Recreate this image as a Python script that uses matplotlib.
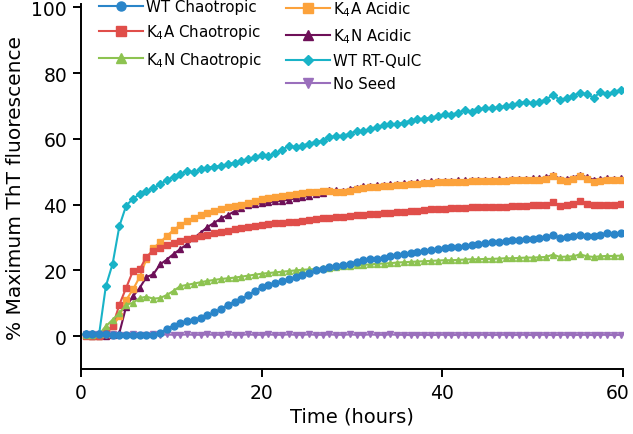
import numpy as np
import matplotlib
matplotlib.use("Agg")
import matplotlib.pyplot as plt
from matplotlib.transforms import ScaledTranslation

plt.rcParams['font.family'] = ['DejaVu Sans']
plt.rcParams['mathtext.fontset'] = 'dejavusans'
plt.rcParams['mathtext.default'] = 'regular'

# time points (hours)
time = [0.5 + 0.75 * k for k in range(80)]

wt_chaotropic = [0.8, 0.7, 0.6, 0.5, 0.4, 0.3, 0.3, 0.3, 0.3, 0.2,
                 0.3, 1.0, 2.2, 3.2, 4.0, 4.5, 5.0, 5.6, 6.3, 7.2,
                 8.3, 9.5, 10.4, 11.3, 12.4, 13.7, 14.9, 15.6, 16.2, 16.8,
                 17.4, 17.9, 18.5, 19.2, 20.0, 20.5, 20.9, 21.3, 21.7, 22.1,
                 22.6, 23.1, 23.4, 23.6, 23.9, 24.3, 24.7, 25.0, 25.3, 25.5,
                 25.8, 26.1, 26.4, 26.7, 27.0, 27.2, 27.5, 27.8, 28.1, 28.3,
                 28.5, 28.7, 28.9, 29.1, 29.3, 29.5, 29.7, 29.9, 30.1, 30.9,
                 29.9, 30.2, 30.5, 30.9, 30.5, 30.6, 30.8, 31.5, 31.1, 31.3]

k4a_chaotropic = [0.0, 0.0, 0.0, 1.5, 3.0, 9.6, 14.7, 19.8, 20.3, 24.2,
                  25.9, 26.9, 27.6, 28.2, 28.9, 29.5, 30.0, 30.5, 30.9, 31.3,
                  31.7, 32.1, 32.5, 32.9, 33.3, 33.6, 33.9, 34.1, 34.3, 34.5,
                  34.6, 34.8, 35.0, 35.3, 35.5, 35.8, 36.0, 36.2, 36.4, 36.6,
                  36.8, 37.0, 37.1, 37.3, 37.4, 37.6, 37.7, 37.9, 38.0, 38.2,
                  38.4, 38.6, 38.7, 38.8, 38.9, 39.0, 39.1, 39.2, 39.2, 39.3,
                  39.3, 39.4, 39.4, 39.5, 39.6, 39.7, 39.8, 39.8, 40.0, 40.7,
                  39.7, 39.8, 40.2, 41.1, 40.3, 39.8, 39.9, 40.0, 40.0, 40.1]

k4n_chaotropic = [0.3, 0.3, 0.5, 3.0, 5.0, 7.0, 9.6, 10.1, 11.6, 12.0,
                  11.4, 11.6, 12.5, 13.8, 15.2, 15.6, 16.0, 16.4, 16.8, 17.1,
                  17.4, 17.6, 17.8, 18.1, 18.4, 18.7, 19.0, 19.2, 19.4, 19.6,
                  19.8, 20.0, 20.2, 20.3, 20.4, 20.6, 20.8, 21.0, 21.2, 21.3,
                  21.5, 21.7, 21.8, 22.0, 22.1, 22.2, 22.4, 22.5, 22.6, 22.7,
                  22.8, 22.9, 23.0, 23.1, 23.1, 23.2, 23.3, 23.4, 23.4, 23.5,
                  23.5, 23.6, 23.7, 23.7, 23.8, 23.9, 23.9, 24.0, 24.1, 24.8,
                  24.1, 24.2, 24.3, 24.9, 24.3, 24.1, 24.3, 24.4, 24.4, 24.5]

k4a_acidic = [0.2, 0.1, 0.1, 0.5, 3.0, 6.0, 11.0, 14.2, 18.0, 23.5,
              26.8, 28.5, 30.5, 32.3, 33.8, 35.0, 36.0, 36.8, 37.4, 38.0,
              38.6, 39.2, 39.6, 40.0, 40.5, 41.0, 41.6, 42.0, 42.3, 42.6,
              43.0, 43.3, 43.6, 43.8, 44.0, 44.2, 44.1, 44.0, 43.8, 44.3,
              44.8, 45.2, 45.3, 45.5, 45.7, 45.8, 46.0, 46.1, 46.3, 46.4,
              46.6, 46.7, 46.8, 46.8, 46.9, 47.0, 47.0, 47.1, 47.1, 47.2,
              47.2, 47.3, 47.2, 47.4, 47.5, 47.5, 47.6, 47.6, 47.9, 48.8,
              47.4, 47.3, 47.8, 48.8, 47.9, 47.0, 47.3, 47.5, 47.4, 47.5]

k4n_acidic = [0.2, 0.1, 0.1, 0.1, 0.2, 1.0, 9.0, 12.1, 14.7, 18.0,
              18.8, 21.8, 23.3, 25.0, 26.5, 28.0, 29.8, 31.5, 33.2, 34.5,
              35.8, 36.8, 38.0, 39.0, 39.8, 40.2, 40.4, 40.7, 41.0, 41.2,
              41.5, 41.9, 42.3, 42.7, 43.2, 43.7, 44.5, 44.4, 44.3, 44.7,
              45.2, 45.6, 45.7, 45.9, 46.1, 46.2, 46.4, 46.5, 46.7, 46.8,
              47.0, 47.1, 47.2, 47.2, 47.3, 47.4, 47.4, 47.5, 47.5, 47.6,
              47.6, 47.7, 47.6, 47.8, 47.9, 47.9, 48.0, 48.0, 48.3, 49.0,
              47.9, 47.8, 48.2, 49.1, 48.3, 47.6, 47.8, 48.0, 47.9, 48.0]

wt_rtquic = [0.8, 0.6, 0.5, 15.2, 22.0, 33.5, 39.7, 41.8, 43.2, 44.2,
             45.0, 46.2, 47.5, 48.5, 49.3, 50.3, 49.8, 50.8, 51.3, 51.6,
             51.8, 52.3, 52.8, 53.2, 53.8, 54.5, 55.0, 54.8, 55.6, 56.6,
             58.0, 57.5, 58.0, 58.6, 59.1, 59.4, 60.5, 60.9, 61.0, 61.6,
             62.4, 62.3, 63.0, 63.6, 64.2, 64.5, 64.5, 65.0, 65.6, 66.0,
             66.2, 66.5, 67.0, 67.5, 67.4, 68.0, 68.8, 68.1, 69.0, 69.4,
             69.4, 69.6, 70.0, 70.4, 70.9, 71.3, 70.8, 71.3, 72.0, 73.4,
             71.9, 72.4, 73.2, 74.1, 73.6, 72.6, 74.2, 73.6, 74.4, 74.9]

no_seed = [0.6, 0.5, 0.5, 0.4, 0.5, 0.4, 0.4, 0.5, 0.4, 0.4,
           0.5, 0.4, 0.5, 0.4, 0.4, 0.5, 0.4, 0.4, 0.5, 0.4,
           0.4, 0.5, 0.4, 0.4, 0.5, 0.4, 0.4, 0.5, 0.4, 0.4,
           0.5, 0.4, 0.4, 0.5, 0.4, 0.4, 0.5, 0.4, 0.4, 0.5,
           0.4, 0.4, 0.5, 0.4, 0.4, 0.5, 0.4, 0.4, 0.3, 0.4,
           0.4, 0.3, 0.4, 0.4, 0.3, 0.4, 0.4, 0.3, 0.4, 0.4,
           0.3, 0.4, 0.4, 0.3, 0.4, 0.4, 0.3, 0.4, 0.4, 0.3,
           0.4, 0.4, 0.3, 0.4, 0.4, 0.3, 0.4, 0.4, 0.3, 0.4]

x_ticks = [0, 20, 40, 60]
y_ticks = [0, 20, 40, 60, 80, 100]

labels = ['WT Chaotropic', 'K$_4$A Chaotropic', 'K$_4$N Chaotropic',
          'K$_4$A Acidic', 'K$_4$N Acidic', 'WT RT-QuIC', 'No Seed']

c_blue = '#2a85c9'
c_red = '#e04e4a'
c_green = '#8dc351'
c_orange = '#fca23b'
c_maroon = '#6e1058'
c_cyan = '#19b3c7'
c_purple = '#9a6fbc'

fig = plt.figure(figsize=(6.33, 4.35), dpi=100)
ax = fig.add_axes([81/633, 1 - 370/435, 542/633, (370 - 5.2)/435])

ms = 5
lw = 1.5
h_cyan, = ax.plot(time, wt_rtquic, color=c_cyan, marker='D', ms=4, lw=lw, zorder=3)
h_maroon, = ax.plot(time, k4n_acidic, color=c_maroon, marker='^', ms=ms, lw=lw, zorder=3)
h_orange, = ax.plot(time, k4a_acidic, color=c_orange, marker='s', ms=ms, lw=lw, zorder=3)
h_red, = ax.plot(time, k4a_chaotropic, color=c_red, marker='s', ms=ms, lw=lw, zorder=3)
h_green, = ax.plot(time, k4n_chaotropic, color=c_green, marker='^', ms=ms, lw=lw, zorder=3)
h_purple, = ax.plot(time, no_seed, color=c_purple, marker='v', ms=ms, lw=lw, zorder=3)
h_blue, = ax.plot(time, wt_chaotropic, color=c_blue, marker='o', ms=ms, lw=lw, zorder=3)

ax.set_xlim(0, 60)
ax.set_ylim(-10, 101)
ax.set_xticks(x_ticks)
ax.set_yticks(y_ticks)
for s in ['top', 'right']:
    ax.spines[s].set_visible(False)
for s in ['left', 'bottom']:
    ax.spines[s].set_linewidth(1.4)
ax.tick_params(axis='both', labelsize=13.5, width=1.4, length=6, direction='out',
               colors='black', pad=4)
ax.set_xlabel('Time (hours)', fontsize=14, labelpad=3)
ax.set_ylabel('% Maximum ThT fluorescence', fontsize=14.5, labelpad=5)

# keep the last x tick label inside the canvas
fig.canvas.draw()
last = ax.get_xticklabels()[-1]
last.set_transform(last.get_transform() + ScaledTranslation(-4/72, 0, fig.dpi_scale_trans))

leg_kw = dict(frameon=False, fontsize=10.8, handlelength=2.9, handletextpad=0.25,
              labelspacing=0.55, borderpad=0, borderaxespad=0, loc='upper left',
              markerscale=1.3)
leg1 = fig.legend([h_blue, h_red, h_green], [labels[0], labels[1], labels[2]],
                  bbox_to_anchor=(99/633, 1 - 0/435), **leg_kw)
leg2 = fig.legend([h_orange, h_maroon, h_cyan, h_purple], [labels[3], labels[4], labels[5], labels[6]],
                  bbox_to_anchor=(286/633, 1 - 0/435), **leg_kw)

fig.savefig('out.png', dpi=100)
